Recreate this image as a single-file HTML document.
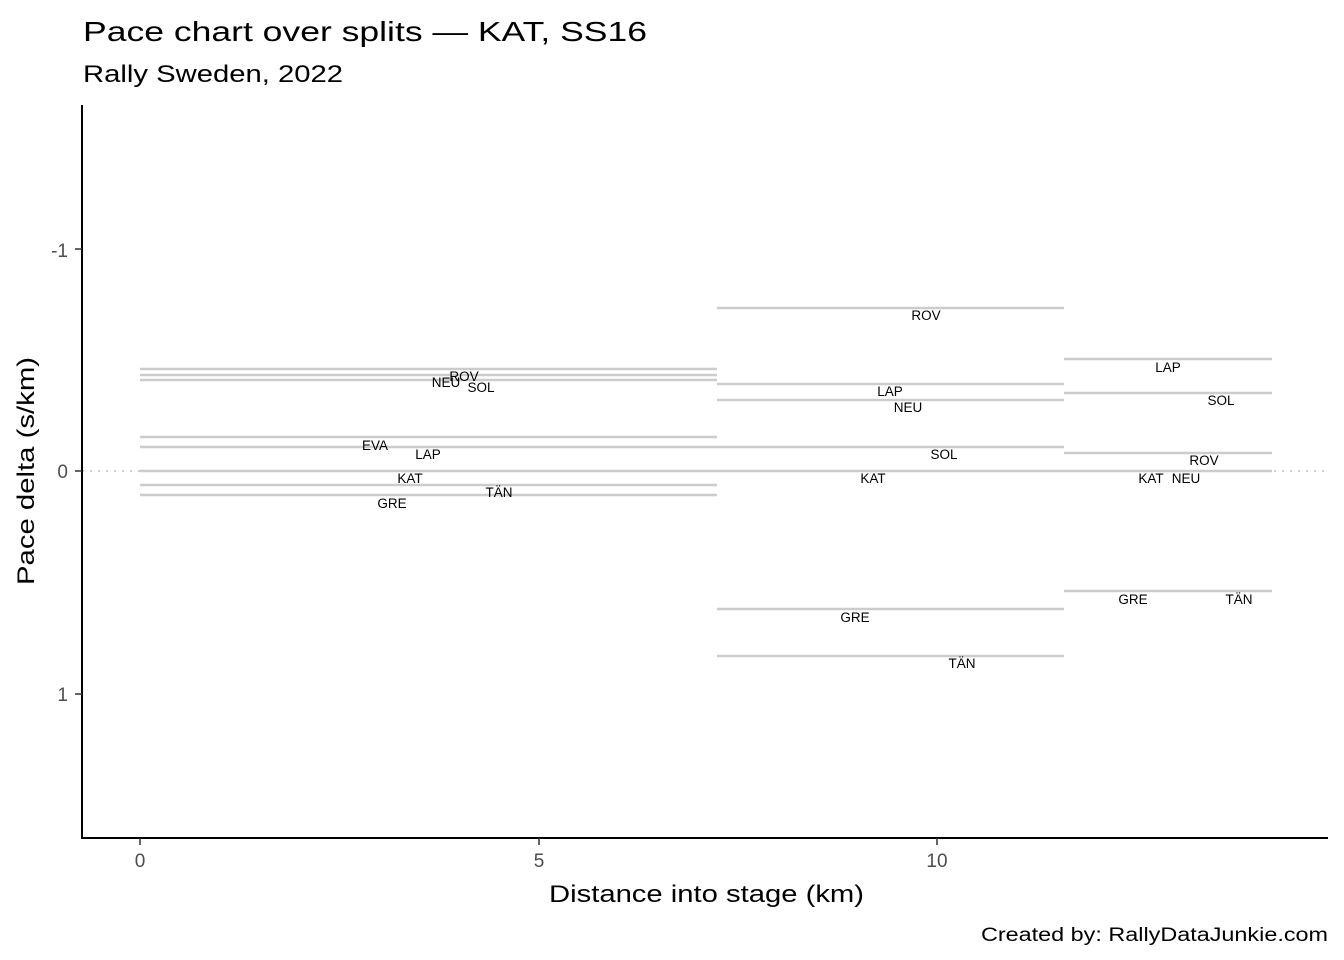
<!DOCTYPE html>
<html><head><meta charset="utf-8"><style>
body{margin:0;background:#fff}
svg{display:block;font-family:"Liberation Sans",Arial,sans-serif}
</style></head><body>
<svg width="1344" height="960" xmlns="http://www.w3.org/2000/svg">
<rect width="1344" height="960" fill="#fff"/>
<text x="83" y="41" font-size="28" textLength="564" lengthAdjust="spacingAndGlyphs" fill="#000">Pace chart over splits — KAT, SS16</text>
<text x="83" y="82" font-size="24" textLength="260" lengthAdjust="spacingAndGlyphs" fill="#000">Rally Sweden, 2022</text>
<line x1="82" y1="471" x2="1328" y2="471" stroke="#ccc" stroke-width="2" stroke-dasharray="2,6"/>
<g stroke="#cccccc" stroke-width="2.5">
<line x1="140" x2="717" y1="369" y2="369"/>
<line x1="140" x2="717" y1="375" y2="375"/>
<line x1="140" x2="717" y1="380" y2="380"/>
<line x1="140" x2="717" y1="437" y2="437"/>
<line x1="140" x2="717" y1="447" y2="447"/>
<line x1="140" x2="717" y1="471" y2="471"/>
<line x1="140" x2="717" y1="485" y2="485"/>
<line x1="140" x2="717" y1="495" y2="495"/>
<line x1="717" x2="1064" y1="308" y2="308"/>
<line x1="717" x2="1064" y1="384" y2="384"/>
<line x1="717" x2="1064" y1="400" y2="400"/>
<line x1="717" x2="1064" y1="447" y2="447"/>
<line x1="717" x2="1064" y1="471" y2="471"/>
<line x1="717" x2="1064" y1="609" y2="609"/>
<line x1="717" x2="1064" y1="656" y2="656"/>
<line x1="1064" x2="1272" y1="359" y2="359"/>
<line x1="1064" x2="1272" y1="393" y2="393"/>
<line x1="1064" x2="1272" y1="453" y2="453"/>
<line x1="1064" x2="1272" y1="471" y2="471"/>
<line x1="1064" x2="1272" y1="591" y2="591"/>
</g>
<g font-size="13.5" fill="#000" text-anchor="middle">
<text x="464" y="381">ROV</text><text x="446" y="387">NEU</text><text x="481" y="392">SOL</text>
<text x="375" y="450">EVA</text><text x="428" y="459">LAP</text><text x="410" y="483">KAT</text>
<text x="499" y="497">TÄN</text><text x="392" y="508">GRE</text>
<text x="926" y="320">ROV</text><text x="890" y="396">LAP</text><text x="908" y="412">NEU</text>
<text x="944" y="459">SOL</text><text x="873" y="483">KAT</text><text x="855" y="622">GRE</text><text x="962" y="668">TÄN</text>
<text x="1168" y="372">LAP</text><text x="1221" y="405">SOL</text><text x="1204" y="465">ROV</text>
<text x="1151" y="483">KAT</text><text x="1186" y="483">NEU</text><text x="1133" y="604">GRE</text><text x="1239" y="604">TÄN</text>
</g>
<g stroke="#000" stroke-width="2">
<line x1="82" y1="105" x2="82" y2="839"/>
<line x1="81" y1="838" x2="1328" y2="838"/>
</g>
<g stroke="#333" stroke-width="1.5">
<line x1="75" x2="82" y1="249" y2="249"/><line x1="75" x2="82" y1="471" y2="471"/><line x1="75" x2="82" y1="694" y2="694"/>
<line x1="140" x2="140" y1="838" y2="845"/><line x1="539" x2="539" y1="838" y2="845"/><line x1="937" x2="937" y1="838" y2="845"/>
</g>
<g font-size="19" fill="#4d4d4d">
<text x="68" y="257" text-anchor="end">-1</text>
<text x="68" y="478" text-anchor="end">0</text>
<text x="68" y="701" text-anchor="end">1</text>
<text x="140" y="867" text-anchor="middle">0</text>
<text x="539" y="867" text-anchor="middle">5</text>
<text x="937" y="867" text-anchor="middle">10</text>
</g>
<text x="549" y="902" font-size="24" textLength="315" lengthAdjust="spacingAndGlyphs">Distance into stage (km)</text>
<text transform="translate(34,585) rotate(-90)" font-size="24" textLength="228" lengthAdjust="spacingAndGlyphs">Pace delta (s/km)</text>
<text x="981" y="941" font-size="19" textLength="347" lengthAdjust="spacingAndGlyphs">Created by: RallyDataJunkie.com</text>
</svg>
</body></html>
